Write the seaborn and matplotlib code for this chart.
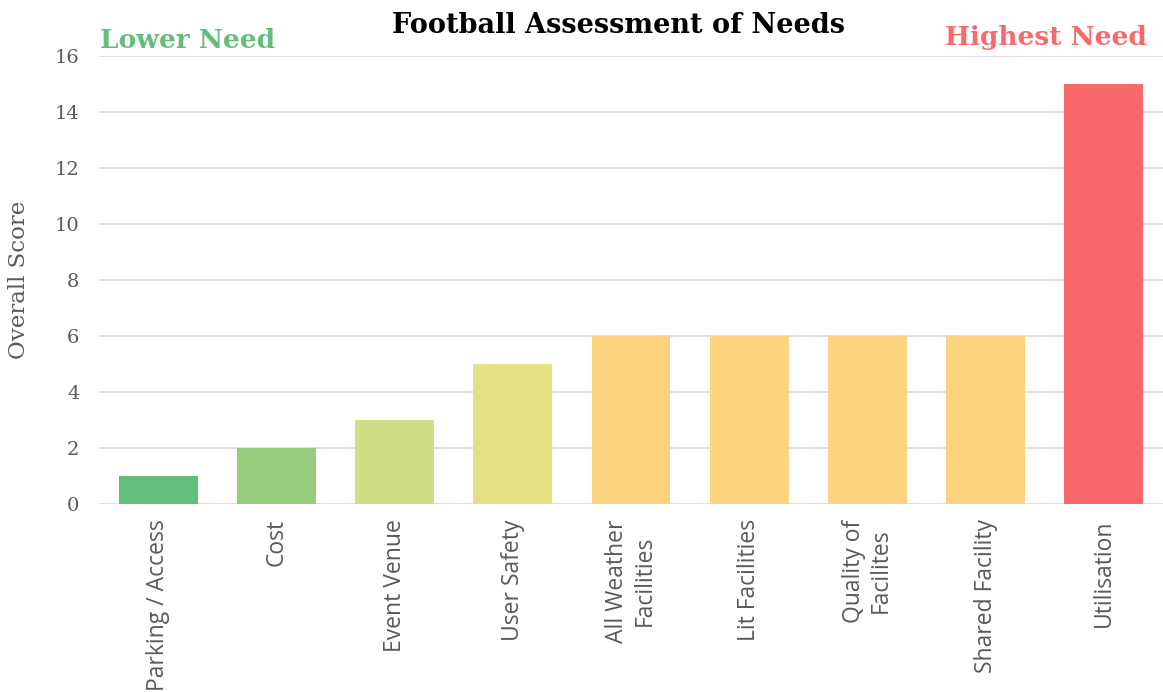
import matplotlib
matplotlib.use("Agg")
import matplotlib.pyplot as plt
import seaborn as sns
import pandas as pd

categories = ["Parking / Access", "Cost", "Event Venue", "User Safety",
              "All Weather\nFacilities", "Lit Facilities", "Quality of\nFacilites",
              "Shared Facility", "Utilisation"]
scores = [1, 2, 3, 5, 6, 6, 6, 6, 15]
bar_colors = ["#63BE7B", "#98CD7E", "#CDDF82", "#E3E383", "#FCD37F",
              "#FCD37F", "#FCD37F", "#FCD37F", "#F8696B"]
y_ticks = [0, 2, 4, 6, 8, 10, 12, 14, 16]

sns.set_theme(style="white")
serif = ["DejaVu Serif"]
sans = ["Open Sans", "DejaVu Sans"]

df = pd.DataFrame({"category": categories, "score": scores})

fig = plt.figure(figsize=(11.63, 6.92), dpi=100)
ax = fig.add_axes([99 / 1163, 1 - 504 / 692, 1064 / 1163, 448 / 692])

sns.barplot(data=df, x="category", y="score", hue="category",
            palette=bar_colors, width=0.667, legend=False, ax=ax,
            saturation=1, linewidth=0)

ax.set_ylim(0, 16)
ax.set_yticks(y_ticks)
ax.set_yticklabels([str(t) for t in y_ticks], fontfamily=serif, fontsize=14, color="#595959")
ax.yaxis.grid(True, color="#D9D9D9", linewidth=1.2)
ax.set_axisbelow(True)
for s in ax.spines.values():
    s.set_visible(False)
ax.tick_params(axis="y", length=0, pad=14)
ax.tick_params(axis="x", length=0, pad=11)
ax.set_xticks(range(len(categories)))
ax.set_xticklabels(categories, rotation=90, fontfamily=sans, fontsize=16.5,
                   color="#595959", multialignment="center")
ax.set_xlabel("")
ax.set_ylabel("Overall Score", fontfamily=serif, fontsize=16.5, color="#595959", labelpad=14)
ax.yaxis.set_label_coords(24 / 1163 - 99 / 1163, 0.5, transform=None)

fig.text(618 / 1163, 1 - 33 / 692, "Football Assessment of Needs", ha="center",
         va="baseline", fontfamily=serif, fontweight="bold", fontsize=19.5, color="black")
fig.text(100 / 1163, 1 - 48 / 692, "Lower Need", ha="left", va="baseline",
         fontfamily=serif, fontweight="bold", fontsize=19, color="#63BE7B")
fig.text(1147 / 1163, 1 - 45 / 692, "Highest Need", ha="right", va="baseline",
         fontfamily=serif, fontweight="bold", fontsize=19, color="#F8696B")

fig.savefig("out.png", dpi=100)
